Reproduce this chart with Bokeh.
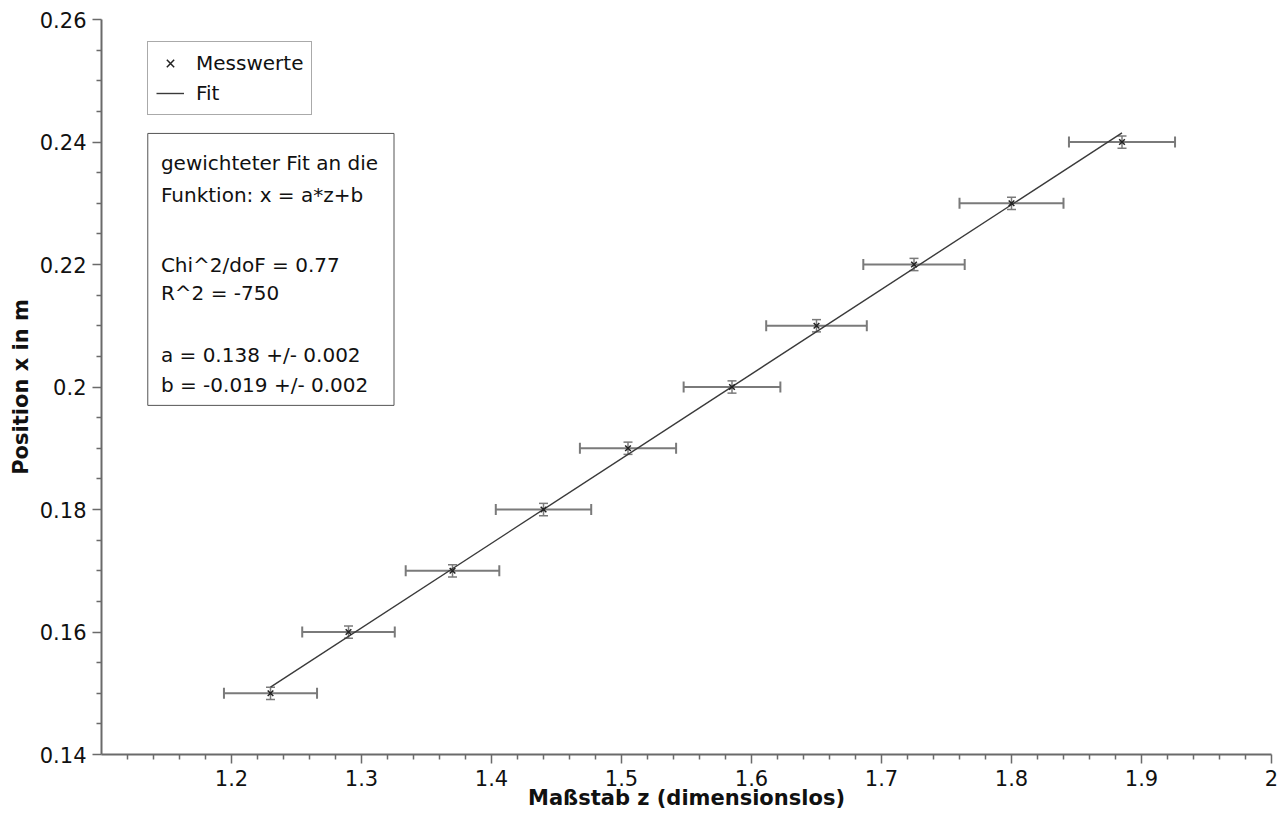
from bokeh.plotting import figure
from bokeh.models import (Whisker, TeeHead, ColumnDataSource, FixedTicker, Legend, LegendItem,
                          Label, BoxAnnotation, Range1d, CustomJSTickFormatter)
from bokeh.embed import file_html
from bokeh.resources import INLINE

# ---- data ----
z = [1.23, 1.29, 1.37, 1.44, 1.505, 1.585, 1.65, 1.725, 1.80, 1.885]
pos = [0.15, 0.16, 0.17, 0.18, 0.19, 0.20, 0.21, 0.22, 0.23, 0.24]
z_err = [0.0358, 0.0356, 0.0360, 0.0367, 0.0370, 0.0372, 0.0387, 0.0390, 0.0400, 0.0408]
pos_err = [0.001, 0.001, 0.001, 0.001, 0.001, 0.001, 0.001, 0.001, 0.001, 0.001]
fit_z = [1.23, 1.885]
fit_pos = [0.1510, 0.2415]

x_ticks = [1.2, 1.3, 1.4, 1.5, 1.6, 1.7, 1.8, 1.9, 2.0]
x_minor = [1.12, 1.14, 1.16, 1.18, 1.22, 1.24, 1.26, 1.28, 1.32, 1.34, 1.36, 1.38,
           1.42, 1.44, 1.46, 1.48, 1.52, 1.54, 1.56, 1.58, 1.62, 1.64, 1.66, 1.68,
           1.72, 1.74, 1.76, 1.78, 1.82, 1.84, 1.86, 1.88, 1.92, 1.94, 1.96, 1.98]
y_ticks = [0.14, 0.16, 0.18, 0.20, 0.22, 0.24, 0.26]
y_minor = [0.145, 0.15, 0.155, 0.165, 0.17, 0.175, 0.185, 0.19, 0.195, 0.205, 0.21, 0.215,
           0.225, 0.23, 0.235, 0.245, 0.25, 0.255]

x_label = "Maßstab z (dimensionslos)"
y_label = "Position x in m"
box_lines = ["gewichteter Fit an die", "Funktion: x = a*z+b", "Chi^2/doF = 0.77",
             "R^2 = -750", "a = 0.138 +/- 0.002", "b = -0.019 +/- 0.002"]
box_line_y = [0.2365, 0.2314, 0.2200, 0.2153, 0.2052, 0.2003]

FONT = "DejaVu Sans"
AX = "#6a6a6a"
ERR = "#7a7a7a"

p = figure(width=1286, height=823, x_range=Range1d(1.1, 2.0), y_range=Range1d(0.14, 0.26),
           output_backend="svg", toolbar_location=None,
           min_border_left=101, min_border_right=15, min_border_top=19, min_border_bottom=69)
p.outline_line_color = None
p.grid.visible = False
p.background_fill_color = "white"
p.border_fill_color = "white"

fmt = CustomJSTickFormatter(code="return String(parseFloat(tick.toFixed(3)));")
for ax, tk, mn in ((p.xaxis[0], x_ticks, x_minor), (p.yaxis[0], y_ticks, y_minor)):
    ax.ticker = FixedTicker(ticks=tk, minor_ticks=mn)
    ax.formatter = fmt
    ax.axis_line_color = AX
    ax.axis_line_width = 2
    ax.major_tick_line_color = AX
    ax.minor_tick_line_color = AX
    ax.major_tick_line_width = 1.5
    ax.minor_tick_line_width = 1.5
    ax.major_tick_in = 0
    ax.major_tick_out = 9
    ax.minor_tick_in = 0
    ax.minor_tick_out = 5
    ax.major_label_text_font = FONT
    ax.major_label_text_font_size = "21px"
    ax.major_label_text_color = "#111111"
    ax.axis_label_text_font = FONT
    ax.axis_label_text_font_size = "21px"
    ax.axis_label_text_font_style = "bold"
    ax.axis_label_text_color = "#111111"
p.xaxis.major_label_standoff = 6
p.yaxis.major_label_standoff = 6
p.xaxis.axis_label = x_label
p.yaxis.axis_label = y_label
p.xaxis.axis_label_standoff = -3
p.yaxis.axis_label_standoff = 4

src = ColumnDataSource(dict(
    z=z, pos=pos,
    zl=[a - e for a, e in zip(z, z_err)], zu=[a + e for a, e in zip(z, z_err)],
    pl=[a - e for a, e in zip(pos, pos_err)], pu=[a + e for a, e in zip(pos, pos_err)],
))

wx = Whisker(base="pos", lower="zl", upper="zu", dimension="width", source=src,
             line_color=ERR, line_width=2,
             upper_head=TeeHead(size=11, line_color=ERR, line_width=2),
             lower_head=TeeHead(size=11, line_color=ERR, line_width=2))
wy = Whisker(base="z", lower="pl", upper="pu", dimension="height", source=src,
             line_color=ERR, line_width=1.5,
             upper_head=TeeHead(size=9, line_color=ERR, line_width=1.5),
             lower_head=TeeHead(size=9, line_color=ERR, line_width=1.5))
p.add_layout(wx)
p.add_layout(wy)

fl = p.line(fit_z, fit_pos, line_color="#3a3a3a", line_width=1.4)
sc = p.scatter("z", "pos", source=src, marker="x", size=8, line_color="#222222", line_width=1.5)

legend = Legend(items=[LegendItem(label="Messwerte", renderers=[sc]),
                       LegendItem(label="Fit", renderers=[fl])],
                location=(46, 639), border_line_color="#555555", border_line_width=1,
                padding=8, spacing=4, glyph_width=28, glyph_height=26, label_height=26,
                label_standoff=12, label_text_font=FONT, label_text_font_size="20px",
                label_text_color="#111111", margin=0, background_fill_alpha=1)
p.add_layout(legend)

p.add_layout(BoxAnnotation(left=1.1356, right=1.325, top=0.2414, bottom=0.1970,
                           fill_color="white", fill_alpha=1, line_color="#555555",
                           line_width=1, line_alpha=1))
for t, yy in zip(box_lines, box_line_y):
    p.add_layout(Label(x=1.1457, y=yy, text=t, text_font=FONT, text_font_size="20px",
                       text_baseline="middle", text_align="left", text_color="#111111"))

open("out.html", "w").write(file_html(p, INLINE))
